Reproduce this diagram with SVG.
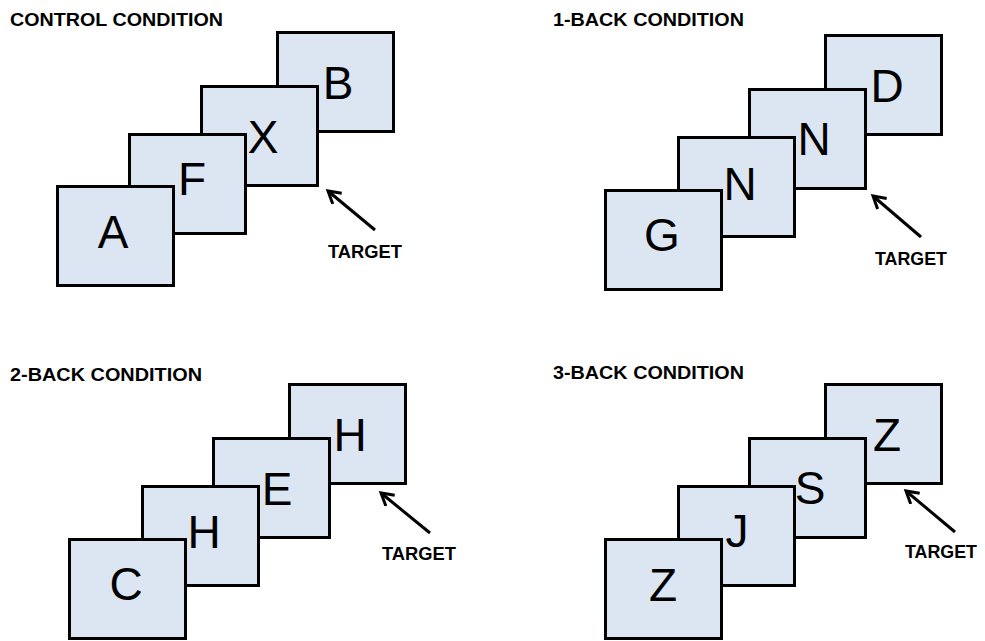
<svg xmlns="http://www.w3.org/2000/svg" width="985" height="641" viewBox="0 0 985 641">
<style>
.card{fill:#dce6f2;stroke:#000;stroke-width:3}
.let{font-family:"Liberation Sans",Arial,sans-serif;font-size:46px;fill:#000;text-anchor:middle}
.title{font-family:"Liberation Sans",Arial,sans-serif;font-size:19px;font-weight:bold;fill:#000}
.tgt{font-family:"Liberation Sans",Arial,sans-serif;font-size:19px;font-weight:bold;fill:#000}
.arr{stroke:#000;stroke-width:3;fill:none;marker-end:url(#ah)}
</style>
<defs>
<marker id="ah" markerUnits="userSpaceOnUse" markerWidth="18" markerHeight="18" refX="13" refY="8" orient="auto" viewBox="0 0 18 18">
<path d="M1,1 L13,8 L1,15" fill="none" stroke="#000" stroke-width="3"/>
</marker>
</defs>
<rect width="985" height="641" fill="#fff"/>

<g id="titles">
<text class="title" x="10" y="26" textLength="213" lengthAdjust="spacingAndGlyphs">CONTROL CONDITION</text>
<text class="title" x="553" y="26" textLength="191" lengthAdjust="spacingAndGlyphs">1-BACK CONDITION</text>
<text class="title" x="10" y="381" textLength="192" lengthAdjust="spacingAndGlyphs">2-BACK CONDITION</text>
<text class="title" x="553" y="379" textLength="191" lengthAdjust="spacingAndGlyphs">3-BACK CONDITION</text>
</g>

<!-- Control condition -->
<g id="c-B"><rect class="card" x="277.5" y="32.5" width="116" height="99"/><text class="let" x="338" y="99">B</text></g>
<g id="c-X"><rect class="card" x="201.5" y="86.5" width="116" height="99"/><text class="let" x="263" y="153">X</text></g>
<g id="c-F"><rect class="card" x="129.5" y="134.5" width="116" height="99"/><text class="let" x="192" y="195">F</text></g>
<g id="c-A"><rect class="card" x="57.5" y="186.5" width="116" height="99"/><text class="let" x="113" y="248">A</text></g>
<g id="c-target"><text class="tgt" x="328" y="258" textLength="74" lengthAdjust="spacingAndGlyphs">TARGET</text></g>

<!-- 1-back -->
<g id="b1-D"><rect class="card" x="825.5" y="35.5" width="116" height="99"/><text class="let" x="887" y="102">D</text></g>
<g id="b1-N2"><rect class="card" x="749.5" y="89.5" width="116" height="99"/><text class="let" x="814" y="155">N</text></g>
<g id="b1-N1"><rect class="card" x="678.5" y="137.5" width="116" height="99"/><text class="let" x="740" y="200">N</text></g>
<g id="b1-G"><rect class="card" x="605.5" y="190.5" width="116" height="99"/><text class="let" x="662" y="251">G</text></g>
<g id="b1-target"><text class="tgt" x="875" y="265" textLength="72" lengthAdjust="spacingAndGlyphs">TARGET</text></g>

<!-- 2-back -->
<g id="b2-H"><rect class="card" x="289.5" y="384.5" width="116" height="99"/><text class="let" x="350" y="451">H</text></g>
<g id="b2-E"><rect class="card" x="213.5" y="438.5" width="116" height="99"/><text class="let" x="277" y="505">E</text></g>
<g id="b2-H2"><rect class="card" x="142.5" y="486.5" width="116" height="99"/><text class="let" x="204" y="548">H</text></g>
<g id="b2-C"><rect class="card" x="69.5" y="539.5" width="116" height="99"/><text class="let" x="126" y="600">C</text></g>
<g id="b2-target"><text class="tgt" x="382" y="560" textLength="74" lengthAdjust="spacingAndGlyphs">TARGET</text></g>

<!-- 3-back -->
<g id="b3-Z"><rect class="card" x="825.5" y="384.5" width="116" height="99"/><text class="let" x="887" y="451">Z</text></g>
<g id="b3-S"><rect class="card" x="749.5" y="438.5" width="116" height="99"/><text class="let" x="810" y="504">S</text></g>
<g id="b3-J"><rect class="card" x="678.5" y="486.5" width="116" height="99"/><text class="let" x="737" y="547">J</text></g>
<g id="b3-Z2"><rect class="card" x="605.5" y="539.5" width="116" height="99"/><text class="let" x="663" y="601">Z</text></g>
<g id="b3-target"><text class="tgt" x="905" y="558" textLength="72" lengthAdjust="spacingAndGlyphs">TARGET</text></g>

<g id="connectors">
<line class="arr" x1="375" y1="230" x2="328" y2="191"/>
<line class="arr" x1="921" y1="237" x2="873" y2="196"/>
<line class="arr" x1="430" y1="533" x2="381" y2="493"/>
<line class="arr" x1="955" y1="532" x2="906" y2="491"/>
</g>
</svg>
